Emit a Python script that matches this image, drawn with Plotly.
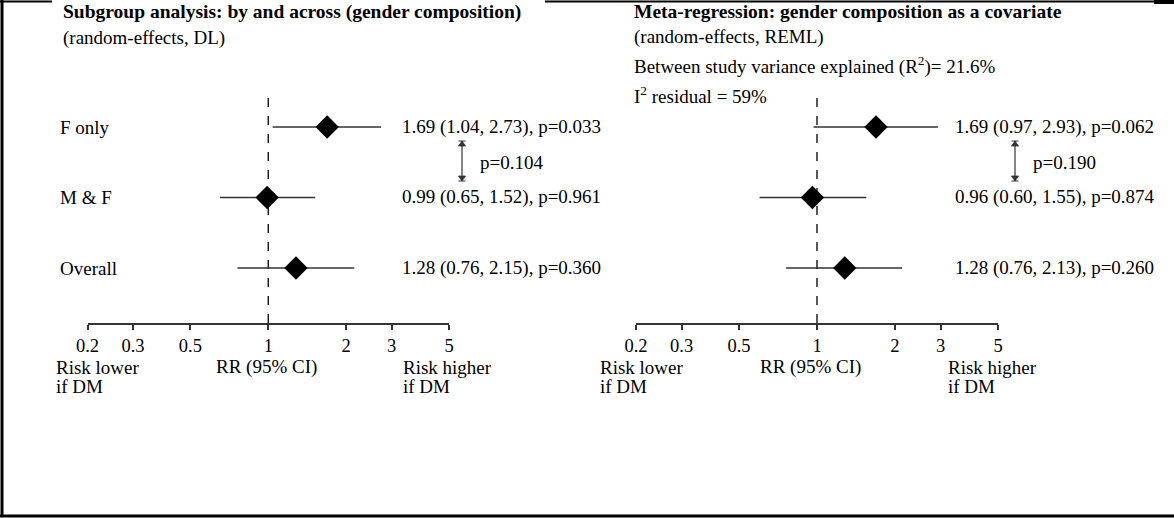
import plotly.graph_objects as go
import math

W, H = 1174, 518
FONT = "Liberation Serif"
FS = 19

# ---------------- data ----------------
rows = ["F only", "M & F", "Overall"]
row_pos = [3, 2, 1]

left_rr = [1.69, 0.99, 1.28]
left_lo = [1.04, 0.65, 0.76]
left_hi = [2.73, 1.52, 2.15]
left_p = ["0.033", "0.961", "0.360"]
left_between_p = "0.104"

right_rr = [1.69, 0.96, 1.28]
right_lo = [0.97, 0.60, 0.76]
right_hi = [2.93, 1.55, 2.13]
right_p = ["0.062", "0.874", "0.260"]
right_between_p = "0.190"

tick_vals = [0.2, 0.3, 0.5, 1, 2, 3, 5]
tick_text = ["0.2", "0.3", "0.5", "1", "2", "3", "5"]

left_title = "Subgroup analysis: by and across (gender composition)"
left_sub = "(random-effects, DL)"
right_title = "Meta-regression: gender composition as a covariate"
right_sub = "(random-effects, REML)"
right_r2 = "Between study variance explained (R<sup>2</sup>)= 21.6%"
right_i2 = "I<sup>2</sup> residual = 59%"


def px(x):
    return x / W


def py(y):
    return 1 - y / H


AX_Y = 323      # pixel row of the x axis line
TOP_Y = 98      # top of the dashed line
ROW_Y = [127, 197, 268]
unit = (ROW_Y[2] - ROW_Y[0]) / 2.0
y_lo = 1 - (AX_Y - ROW_Y[2]) / unit
y_hi = 3 + (ROW_Y[0] - TOP_Y) / unit

fig = go.Figure()

for rr, lo, hi, xa, ya in [(left_rr, left_lo, left_hi, "x", "y"),
                           (right_rr, right_lo, right_hi, "x2", "y2")]:
    fig.add_trace(go.Scatter(
        x=rr, y=row_pos, xaxis=xa, yaxis=ya, mode="markers",
        marker=dict(symbol="diamond", size=18, color="black"),
        error_x=dict(type="data", symmetric=False,
                     array=[h - r for h, r in zip(hi, rr)],
                     arrayminus=[r - l for r, l in zip(rr, lo)],
                     color="#333333", thickness=1.3, width=0),
        showlegend=False, hoverinfo="skip", cliponaxis=False))

ax_common = dict(type="log", range=[math.log10(0.2), math.log10(5)],
                 tickvals=tick_vals, ticktext=tick_text, showgrid=False,
                 zeroline=False, showline=True, linecolor="#333333", linewidth=1.5,
                 ticks="outside", ticklen=5, tickcolor="#333333", tickwidth=1.5,
                 ticklabelstandoff=0,
                 tickfont=dict(family=FONT, size=18.5, color="black"))
ay_common = dict(range=[y_lo, y_hi], showgrid=False, zeroline=False,
                 showticklabels=False, showline=False, ticks="",
                 domain=[py(AX_Y), py(TOP_Y)])

fig.update_layout(
    width=W, height=H,
    margin=dict(l=0, r=0, t=0, b=0, pad=0, autoexpand=False),
    paper_bgcolor="white", plot_bgcolor="white",
    xaxis=dict(domain=[px(87.5), px(449)], anchor="y", **ax_common),
    xaxis2=dict(domain=[px(636), px(998)], anchor="y2", **ax_common),
    yaxis=dict(anchor="x", **ay_common),
    yaxis2=dict(anchor="x2", **ay_common),
)

# dashed reference lines at RR = 1
for xr, yr in [("x", "y"), ("x2", "y2")]:
    fig.add_shape(type="line", xref=xr, yref=yr, x0=1, x1=1, y0=y_lo, y1=y_hi,
                  line=dict(color="black", width=1.3, dash="dash"), layer="below")

annots = []


def text(x, y, s, size=FS, bold=False, anchor="left"):
    if bold:
        s = "<b>" + s + "</b>"
    annots.append(dict(x=px(x), y=py(y), xref="paper", yref="paper", text=s,
                       showarrow=False, xanchor=anchor, yanchor="middle",
                       font=dict(family=FONT, size=size, color="black")))


# titles
text(61, 12, left_title, size=19.5, bold=True)
text(61, 38, left_sub)
text(632, 12, right_title, size=19.5, bold=True)
text(632, 37, right_sub)
text(632, 66, right_r2)
text(632, 95, right_i2)

# row labels
for lab, yy in zip(rows, ROW_Y):
    text(58, yy, lab)

# value texts (built from data)
for i, yy in enumerate(ROW_Y):
    text(400, yy, f"{left_rr[i]:.2f} ({left_lo[i]:.2f}, {left_hi[i]:.2f}), p={left_p[i]}")
    text(953, yy, f"{right_rr[i]:.2f} ({right_lo[i]:.2f}, {right_hi[i]:.2f}), p={right_p[i]}")

# between-group p values with double-headed brackets
for bx, p in [(462, left_between_p), (1015, right_between_p)]:
    y0, y1 = 141, 181
    fig.add_shape(type="line", xref="paper", yref="paper",
                  x0=px(bx), x1=px(bx), y0=py(y0), y1=py(y1),
                  line=dict(color="#333333", width=1.2))
    for yy, d in [(y0, 1), (y1, -1)]:
        path = (f"M {px(bx - 3.5)},{py(yy + 5 * d)} L {px(bx + 3.5)},{py(yy + 5 * d)} "
                f"L {px(bx)},{py(yy)} Z")
        fig.add_shape(type="path", xref="paper", yref="paper", path=path,
                      fillcolor="#333333", line=dict(color="#333333", width=0.8))
        fig.add_shape(type="line", xref="paper", yref="paper",
                      x0=px(bx - 3.5), x1=px(bx + 3.5), y0=py(yy), y1=py(yy),
                      line=dict(color="#333333", width=1))
    text(bx + 16, 162, "p=" + p)

# axis captions
for base_l, center, base_r in [(54, 266, 401), (598, 810, 946)]:
    text(base_l, 367, "Risk lower")
    text(base_l, 386, "if DM")
    text(center, 367, "RR (95% CI)", anchor="center")
    text(base_r, 367, "Risk higher")
    text(base_r, 386, "if DM")

fig.update_layout(annotations=annots)

# frame lines
frame = [
    (2, 0, 2, 516, 3),
    (0, 516, W, 516, 3),
    (0, 1.5, 52, 1.5, 2),
    (545, 1.5, W, 1.5, 2),
    (1154, 2, W, 2, 4),
]
for x0, y0, x1, y1, w in frame:
    fig.add_shape(type="line", xref="paper", yref="paper",
                  x0=px(x0), y0=py(y0), x1=px(x1), y1=py(y1),
                  line=dict(color="black", width=w))

fig.write_html("out.html", config={"displayModeBar": False},
               post_script="document.body.style.margin='0';document.body.style.overflow='hidden';")
